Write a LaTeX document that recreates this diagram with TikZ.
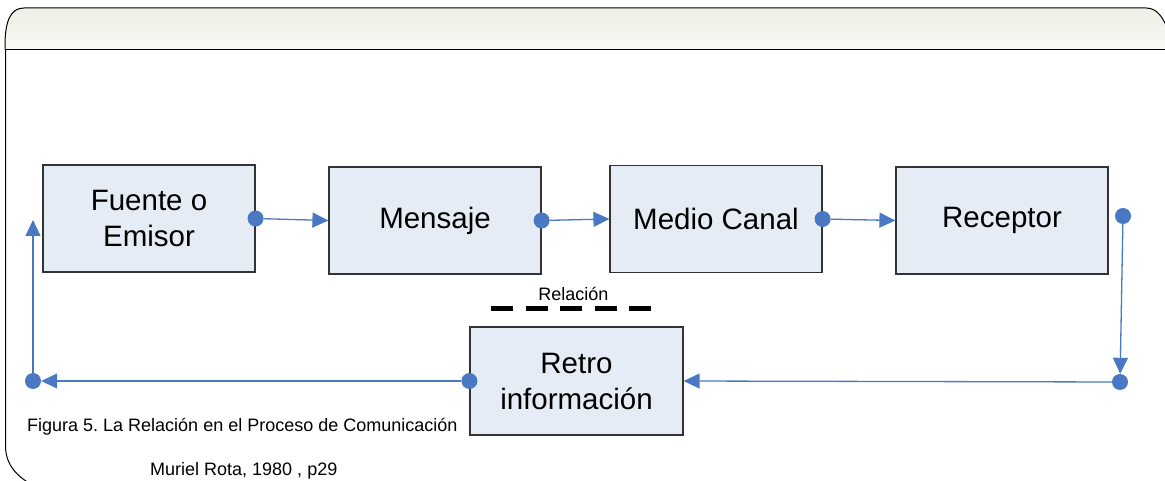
\documentclass[tikz,border=0pt]{standalone}
\usepackage{fontspec}
\setmainfont{Liberation Sans}
\usetikzlibrary{arrows.meta}
\frenchspacing
\definecolor{boxfill}{HTML}{E6ECF6}
\definecolor{boxline}{HTML}{333333}
\definecolor{conn}{HTML}{4A78C2}
\definecolor{headtop}{HTML}{EEEFE6}
\definecolor{headbot}{HTML}{F9F9F6}
\tikzset{
  box/.style={draw=boxline, line width=1.2pt, fill=boxfill, minimum width=212pt, minimum height=107pt, inner sep=0pt, align=center, font=\fontsize{29.5}{36}\selectfont},
  dot/.style={circle, fill=conn, minimum size=16pt, inner sep=0pt},
  link/.style={draw=conn, line width=1.3pt, -{Triangle[length=16pt,width=15pt]}},
  frame/.style={draw=black, line width=1pt},
  small/.style={font=\fontsize{18}{21}\selectfont}
}
\begin{document}
\begin{tikzpicture}[x=1pt,y=-1pt]
\useasboundingbox (0,0) rectangle (1165,481);
\begin{scope}
\clip (0,0) rectangle (1165,481);
% header band
\shade[top color=headtop, bottom color=headbot]
  (5,50) -- (5,46) .. controls (5,22) and (10,8) .. (24,8) -- (1146,8) .. controls (1158,8) and (1164,18) .. (1172,40) -- (1172,50) -- cycle;
\draw[frame] (5,50) -- (5,46) .. controls (5,22) and (10,8) .. (24,8) -- (1146,8) .. controls (1158,8) and (1164,18) .. (1172,40);
\draw[frame] (1172,50) -- (5,50);
\draw[frame] (5.5,50) -- (5.5,448) .. controls (6.5,465) and (16,476) .. (34,486);
\end{scope}
% boxes
\node[box] (fuente) at (149,218.5) {Fuente o\\Emisor};
\node[box] (mensaje) at (435,220.5) {Mensaje};
\node[box] (medio) at (716,219) {Medio Canal};
\node[box] (receptor) at (1002,220.5) {Receptor};
\node[box, minimum width=213pt, minimum height=108pt] (retro) at (576.5,381) {Retro\\información};
% dots
\node[dot] (d1) at (fuente.east) {};
\node[dot] (d2) at (mensaje.east) {};
\node[dot] (d3) at (medio.east) {};
\node[dot] (d4) at (1123,216) {};
\node[dot] (d5) at (1120,382) {};
\node[dot] (d6) at (retro.west) {};
\node[dot] (d7) at (33,381) {};
\coordinate (up) at (33,220);
% connectors
\draw[link] (d1) -- (mensaje.west);
\draw[link] (d2) -- (medio.west);
\draw[link] (d3) -- (receptor.west);
\draw[link] (d4) -- (d5);
\draw[link] (d5) -- (retro.east);
\draw[link] (d6) -- (d7);
\draw[link] (d7) -- (up);
% relation
\node[small] (rel) at (573.5,294) {Relación};
\coordinate (ra) at (491,308);
\coordinate (rb) at (651,308);
\draw[black, line width=5pt, dash pattern=on 22pt off 12.5pt] (ra) -- (rb);
% captions
\node[small, anchor=west, inner sep=0pt] (fig) at (27,427) {Figura 5. La Relación en el Proceso de Comunicación};
\node[small, anchor=west, inner sep=0pt] (src) at (150,471) {Muriel Rota, 1980 , p29};
\end{tikzpicture}
\end{document}
